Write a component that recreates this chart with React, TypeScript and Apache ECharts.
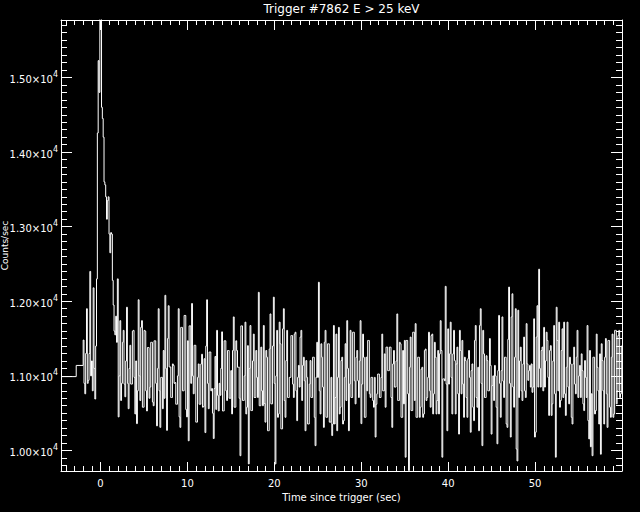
import React, { useEffect, useRef } from "react";
import * as echarts from "echarts";

const TITLE = "Trigger #7862 E > 25 keV";
const X_NAME = "Time since trigger (sec)";
const Y_NAME = "Counts/sec";

// pre-trigger (coarse) bins: left edge time, rate
const preTimes = [-4.55, -2.8];
const preRates = [10990, 11140];

// fine-resolution bins starting at BIN_START, each BIN_WIDTH seconds wide
const BIN_START = -2.0;
const BIN_WIDTH = 0.096;

const burstRates = [
  11480, 10900, 10760, 11300, 11900, 10900, 10940, 11300, 12400, 11000,
  11200, 10800, 12180, 11100, 10690, 11400, 12300, 14255, 15225, 14800,
  16200, 16200, 14600, 14450, 14200, 13600, 13560, 13400, 13100, 13350,
  13400, 12900, 12650, 12920, 12900, 12280, 11950, 11600, 11550, 11800,
  11450, 12300,
];
const rates2to15 = [
  10450, 11000, 11740, 10670, 10900, 11450, 11610, 10890, 10720, 11200,
  11920, 10900, 10560, 11100, 11410, 10890, 10890, 11600, 11610, 10980,
  10490, 11200, 10360, 10800, 12020, 11000, 10670, 11650, 11740, 10580,
  10580, 11610, 11600, 10800, 10530, 11380, 11380, 10700, 10850, 11450,
  11450, 10650, 10600, 11470, 11470, 10900, 10330, 11100, 11900, 10800,
  10310, 10980, 10980, 10560, 11340, 10700, 12080, 11100, 10270, 11500,
  11940, 11120, 11120, 10710, 10710, 11160, 11140, 10900, 10910, 10620,
  10620, 11000, 11900, 10450, 10310, 11650, 11650, 10800, 10800, 11810,
  11810, 10550, 10450, 11470, 10130, 11670, 11670, 10900, 11970, 11000,
  10760, 11410, 11410, 10380, 10380, 10980, 11160, 10620, 10620, 11160,
  11290, 10580, 10590, 11230, 10240, 11400, 12020, 10900, 10560, 11320,
  11320, 10800, 10830, 10500, 10160, 10830, 11260, 10550, 11610, 10740,
  10530, 10900, 10740, 11100, 11590, 10530, 10530, 11470, 11470, 10800,
  10670, 11340, 11340, 10700, 10700, 11070,
];
const rates15to30 = [
  10490, 11340, 11790, 10580, 10580, 11470, 11340, 11115, 11120, 10700,
  9930, 11670, 11670, 10670, 10670, 11000, 11720, 10490, 10580, 11405,
  9820, 11100, 11675, 10535, 10535, 11200, 11560, 10710, 10710, 11340,
  10980, 10710, 12120, 10600, 10600, 11385, 10800, 10600, 11675, 10630,
  10380, 11340, 11250, 10265, 10265, 11360, 11830, 10625, 10625, 11400,
  12055, 10900, 9820, 11000, 11610, 10445, 10490, 11720, 11430, 10290,
  10290, 11630, 11900, 10670, 10445, 11205, 11610, 10710, 10710, 10980,
  10980, 11540, 11540, 10890, 10710, 11560, 11585, 10800, 10400, 10980,
  11140, 10850, 11520, 11610, 10670, 11140, 11250, 10935, 10265, 11205,
  10980, 10355, 10355, 10890, 11205, 10710, 10710, 11250, 11250, 10445,
  10065, 10980, 11450, 10980, 12255, 10800, 10490, 11430, 11250, 10850,
  10310, 11450, 11610, 10445, 10445, 11430, 11430, 10380, 10380, 10980,
  10200, 10355, 11675, 10355, 10710, 11560, 10265, 10980, 11650, 10490,
  10580, 11205, 11250, 10355, 10400, 10980, 11430, 10670, 11740, 11100,
  10265, 10890, 11610, 10710, 10710, 11585, 11585, 10935, 10625, 11250,
  11340, 10935, 10710, 11200, 11740, 10360,
];
const rates30to45 = [
  10890, 11560, 11250, 10445, 10445, 11250, 10800, 11475, 11475, 10760,
  10710, 10980, 10980, 10670, 10580, 10980, 10180, 10620, 10760, 11025,
  11025, 10710, 10710, 10980, 11560, 10800, 10800, 11295, 10580, 11385,
  11385, 11070, 11070, 11385, 11385, 10710, 10310, 11160, 11340, 10850,
  10850, 11200, 11830, 10670, 10670, 11450, 11430, 10445, 10445, 11340,
  10625, 11475, 9910, 11475, 11475, 10760, 9730, 11115, 11520, 10535,
  10535, 11585, 11585, 10670, 11700, 10445, 10445, 11250, 11250, 10445,
  10580, 11090, 11115, 10445, 10490, 11340, 11360, 10670, 10710, 10980,
  11585, 10800, 10580, 11540, 11560, 10490, 10760, 11450, 11250, 10490,
  10670, 11340, 10490, 11295, 11740, 11340, 9910, 10960, 10960, 10935,
  12200, 10890, 10265, 11630, 10890, 11295, 11720, 10980, 10490, 11295,
  11610, 11205, 10490, 11160, 11385, 10760, 10220, 11610, 11340, 10760,
  11475, 10890, 10445, 11250, 11205, 10710, 10445, 11230, 11340, 10980,
  10245, 11070, 11160, 10580, 10400, 11475, 11675, 10710, 10580, 11115,
  10265, 11675, 11900, 10900, 10065, 11610, 11295, 10710, 10710, 11270,
  11205, 10800, 10800, 11500, 11140, 10220,
];
const rates45to60 = [
  10870, 11000, 10670, 11140, 11000, 10580, 10090, 11070, 11810, 10900,
  10445, 11070, 11790, 10930, 10710, 11250, 11250, 10355, 10310, 11490,
  12190, 10900, 10180, 11790, 12100, 10850, 10580, 11250, 11900, 10020,
  9860, 11880, 10710, 11200, 11385, 10800, 10670, 11160, 11520, 10800,
  10710, 11700, 11160, 10940, 11070, 11140, 10850, 11160, 10780, 10850,
  11765, 10180, 10245, 11520, 11940, 10850, 12430, 11100, 10850, 11340,
  11385, 10800, 11650, 10850, 11200, 11585, 11475, 10980, 10470, 11340,
  11405, 10470, 10625, 11200, 11675, 10760, 9910, 11920, 11475, 10800,
  11720, 10580, 10670, 11340, 11630, 10710, 11720, 10760, 10470, 11115,
  11720, 10850, 10625, 11250, 11160, 10445, 10355, 11160, 11385, 10890,
  10760, 11250, 11610, 10710, 11000, 11140, 10710, 11295, 11070, 10625,
  10535, 11205, 10980, 10710, 11675, 10400, 10155, 11340, 10050, 10760,
  9930, 11250, 11250, 10490, 10535, 11560, 11115, 10800, 10355, 11295,
  9950, 11430, 11205, 10800, 10355, 11250, 11500, 10760, 10310, 11475,
  11475, 10580, 10445, 11250, 11560, 10445, 10490, 11610, 11610, 10625,
  10800, 11540, 11610, 10710, 10760, 11400,
];

const X_MIN = -4.55;
const X_MAX = 60;
const Y_MIN = 9725;
const Y_MAX = 15770;

const xMajorTicks = [0, 10, 20, 30, 40, 50];
const yMajorTicks = [10000, 11000, 12000, 13000, 14000, 15000];
const xMinorTicks = Array.from({ length: 65 }, (_, i) => i - 4);
const yMinorTicks = Array.from({ length: 60 }, (_, i) => 9800 + i * 100);

const FONT = "DejaVu Sans";
const WHITE = "#ffffff";

const GRID = { left: 61, right: 18, top: 20, bottom: 41 };

function buildData(): number[][] {
  const rates = [
    ...burstRates,
    ...rates2to15,
    ...rates15to30,
    ...rates30to45,
    ...rates45to60,
  ];
  const data: number[][] = [];
  preTimes.forEach((t, i) => data.push([t, preRates[i]]));
  rates.forEach((v, i) => data.push([+(BIN_START + i * BIN_WIDTH).toFixed(3), v]));
  data.push([+(BIN_START + rates.length * BIN_WIDTH).toFixed(3), rates[rates.length - 1]]);
  return data;
}

function xAxisDef(position: "top" | "bottom", major: boolean, main: boolean) {
  return {
    type: "value",
    position,
    min: X_MIN,
    max: X_MAX,
    axisLine: { show: major, onZero: false, lineStyle: { color: WHITE, width: 1 } },
    axisTick: {
      show: true,
      inside: true,
      length: major ? (position === "bottom" ? 9 : 10) : 5,
      customValues: major ? xMajorTicks : xMinorTicks,
      lineStyle: { color: WHITE, width: 1 },
    },
    axisLabel: main
      ? {
          show: true,
          customValues: xMajorTicks,
          color: WHITE,
          fontFamily: FONT,
          fontSize: 10,
          margin: 7,
        }
      : { show: false },
    splitLine: { show: false },
    ...(main
      ? {
          name: X_NAME,
          nameLocation: "middle",
          nameGap: 21,
          nameTextStyle: { color: WHITE, fontFamily: FONT, fontSize: 10 },
        }
      : {}),
  };
}

function yAxisDef(position: "left" | "right", major: boolean, main: boolean) {
  return {
    type: "value",
    position,
    min: Y_MIN,
    max: Y_MAX,
    axisLine: { show: major, onZero: false, lineStyle: { color: WHITE, width: 1 } },
    axisTick: {
      show: true,
      inside: true,
      length: major ? 11 : 6,
      customValues: major ? yMajorTicks : yMinorTicks,
      lineStyle: { color: WHITE, width: 1 },
    },
    axisLabel: main
      ? {
          show: true,
          customValues: yMajorTicks,
          margin: 3,
          formatter: (v: number) => `{a|${(v / 10000).toFixed(2)}×10}{b|4}`,
          rich: {
            a: { color: WHITE, fontFamily: FONT, fontSize: 10, lineHeight: 14, verticalAlign: "bottom" },
            b: { color: WHITE, fontFamily: FONT, fontSize: 8, lineHeight: 14, verticalAlign: "top" },
          },
        }
      : { show: false },
    splitLine: { show: false },
  };
}

export default function App() {
  const ref = useRef<HTMLDivElement>(null);
  useEffect(() => {
    if (!ref.current) return;
    const chart = echarts.init(ref.current, null, { renderer: "svg" });
    const plotMidY = GRID.top + (512 - GRID.top - GRID.bottom) / 2;
    chart.setOption({
      animation: false,
      backgroundColor: "#000000",
      graphic: [
        {
          type: "text",
          x: GRID.left + (640 - GRID.left - GRID.right) / 2,
          y: 3,
          style: {
            text: TITLE,
            fill: WHITE,
            font: `12px "${FONT}"`,
            textAlign: "center",
            textVerticalAlign: "top",
          },
        },
        {
          type: "text",
          x: 5,
          y: plotMidY,
          rotation: Math.PI / 2,
          style: {
            text: Y_NAME,
            fill: WHITE,
            font: `9px "${FONT}"`,
            textAlign: "center",
            textVerticalAlign: "middle",
          },
        },
      ],
      grid: { ...GRID, containLabel: false, outerBoundsMode: "none" },
      xAxis: [
        xAxisDef("bottom", true, true),
        xAxisDef("bottom", false, false),
        xAxisDef("top", true, false),
        xAxisDef("top", false, false),
      ],
      yAxis: [
        yAxisDef("left", true, true),
        yAxisDef("left", false, false),
        yAxisDef("right", true, false),
        yAxisDef("right", false, false),
      ],
      series: [
        {
          type: "line",
          xAxisIndex: 0,
          yAxisIndex: 0,
          step: "end",
          showSymbol: false,
          clip: true,
          lineStyle: { color: WHITE, width: 1 },
          data: buildData(),
        },
      ],
    });
    return () => chart.dispose();
  }, []);
  return (
    <div
      ref={ref}
      style={{ position: "fixed", left: 0, top: 0, width: 640, height: 512, background: "#000" }}
    />
  );
}
